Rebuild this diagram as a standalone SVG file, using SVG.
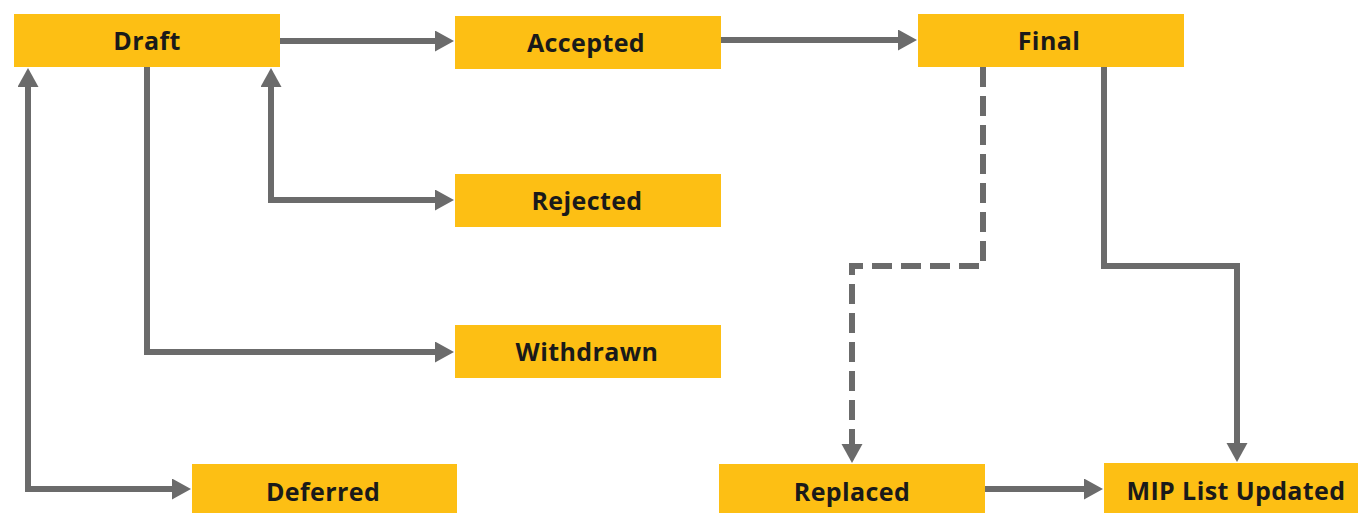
<svg xmlns="http://www.w3.org/2000/svg" width="1358" height="513" viewBox="0 0 1358 513">
  <style>
    .node rect { fill: #FDBF14; }
    .node text { font-family: "Open Sans", "Liberation Sans", sans-serif; font-weight: bold; font-size: 25px; letter-spacing: 0.4px; fill: #1a1a1a; text-anchor: middle; }
    .edge { fill: none; stroke: #6b6b6b; stroke-width: 6; stroke-linejoin: miter; }
    .dashed { stroke-dasharray: 20 9; }
  </style>
  <defs>
    <marker id="arrow" markerUnits="userSpaceOnUse" markerWidth="20" markerHeight="22" refX="1" refY="10.5" orient="auto-start-reverse">
      <path d="M0,0 L19,10.5 L0,21 Z" fill="#6b6b6b"/>
    </marker>
  </defs>
  <rect width="1358" height="513" fill="#ffffff"/>

  <g id="connectors">
    <!-- Draft to Accepted -->
    <path class="edge" d="M280,41 H436" marker-end="url(#arrow)"/>
    <!-- Accepted to Final -->
    <path class="edge" d="M721,40 H899" marker-end="url(#arrow)"/>
    <!-- Draft and Rejected, both ways -->
    <path class="edge" d="M271,86 V200 H436" marker-start="url(#arrow)" marker-end="url(#arrow)"/>
    <!-- Draft to Withdrawn -->
    <path class="edge" d="M147,67 V352 H436" marker-end="url(#arrow)"/>
    <!-- Draft and Deferred, both ways -->
    <path class="edge" d="M28,86 V489 H173" marker-start="url(#arrow)" marker-end="url(#arrow)"/>
    <!-- Final to Replaced (dashed) -->
    <path class="edge dashed" d="M983,67 V266 H852 V445"/>
    <path class="edge" d="M852,440 V445" marker-end="url(#arrow)"/>
    <!-- Final to MIP List Updated -->
    <path class="edge" d="M1104,67 V266 H1237 V444" marker-end="url(#arrow)"/>
    <!-- Replaced to MIP List Updated -->
    <path class="edge" d="M985,489 H1085" marker-end="url(#arrow)"/>
  </g>

  <g id="draft" class="node">
    <rect x="14" y="14" width="266" height="53"/>
    <text x="147" y="50">Draft</text>
  </g>
  <g id="accepted" class="node">
    <rect x="455" y="16" width="266" height="53"/>
    <text x="586" y="52">Accepted</text>
  </g>
  <g id="final" class="node">
    <rect x="918" y="14" width="266" height="53"/>
    <text x="1049" y="50">Final</text>
  </g>
  <g id="rejected" class="node">
    <rect x="455" y="174" width="266" height="53"/>
    <text x="587" y="210">Rejected</text>
  </g>
  <g id="withdrawn" class="node">
    <rect x="455" y="325" width="266" height="53"/>
    <text x="587" y="361">Withdrawn</text>
  </g>
  <g id="deferred" class="node">
    <rect x="192" y="464" width="265" height="53"/>
    <text x="323" y="501">Deferred</text>
  </g>
  <g id="replaced" class="node">
    <rect x="719" y="464" width="266" height="53"/>
    <text x="852" y="501">Replaced</text>
  </g>
  <g id="mip-list-updated" class="node">
    <rect x="1104" y="463" width="266" height="53"/>
    <text x="1236" y="500">MIP List Updated</text>
  </g>
</svg>
